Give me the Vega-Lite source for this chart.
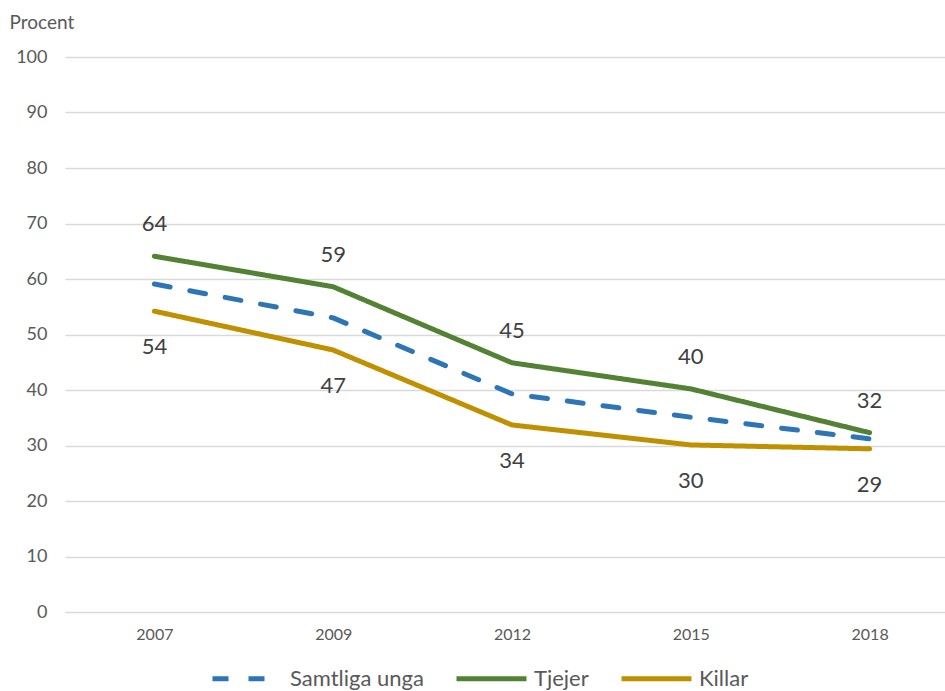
{
  "$schema": "https://vega.github.io/schema/vega-lite/v6.json",
  "autosize": "none",
  "width": 894,
  "height": 555,
  "padding": {"left": 65, "top": 57, "right": 0, "bottom": 79},
  "background": "white",
  "config": {
    "font": "Lato",
    "view": {"stroke": null}
  },
  "data": {
    "values": [
      {"year": "2007", "group": "Samtliga unga", "value": 59.1},
      {"year": "2009", "group": "Samtliga unga", "value": 53.0},
      {"year": "2012", "group": "Samtliga unga", "value": 39.3},
      {"year": "2015", "group": "Samtliga unga", "value": 35.1},
      {"year": "2018", "group": "Samtliga unga", "value": 31.2},
      {"year": "2007", "group": "Tjejer", "value": 64.1},
      {"year": "2009", "group": "Tjejer", "value": 58.6},
      {"year": "2012", "group": "Tjejer", "value": 44.9},
      {"year": "2015", "group": "Tjejer", "value": 40.2},
      {"year": "2018", "group": "Tjejer", "value": 32.3},
      {"year": "2007", "group": "Killar", "value": 54.2},
      {"year": "2009", "group": "Killar", "value": 47.2},
      {"year": "2012", "group": "Killar", "value": 33.7},
      {"year": "2015", "group": "Killar", "value": 30.1},
      {"year": "2018", "group": "Killar", "value": 29.4}
    ]
  },
  "encoding": {
    "x": {
      "field": "year",
      "type": "ordinal",
      "sort": ["2007", "2009", "2012", "2015", "2018"],
      "scale": {"type": "point", "padding": 0.5},
      "axis": {
        "title": null,
        "domain": false,
        "ticks": false,
        "grid": false,
        "labelAngle": 0,
        "labelFontSize": 16,
        "labelColor": "#595959",
        "labelPadding": 14
      }
    },
    "y": {
      "field": "value",
      "type": "quantitative",
      "scale": {"domain": [0, 100], "nice": false},
      "axis": {
        "values": [0, 10, 20, 30, 40, 50, 60, 70, 80, 90, 100],
        "title": "Procent",
        "titleAngle": 0,
        "titleAlign": "left",
        "titleBaseline": "middle",
        "titleX": -56,
        "titleY": -35,
        "titleFontSize": 19,
        "titleFontWeight": "normal",
        "titleColor": "#595959",
        "domain": false,
        "ticks": false,
        "grid": true,
        "gridColor": "#D9D9D9",
        "gridWidth": 1.5,
        "labelFontSize": 18,
        "labelColor": "#595959",
        "labelPadding": 18
      }
    }
  },
  "layer": [
    {
      "mark": {"type": "line", "strokeWidth": 5, "strokeCap": "round", "strokeJoin": "round"},
      "encoding": {
        "color": {
          "field": "group",
          "type": "nominal",
          "scale": {"domain": ["Samtliga unga", "Tjejer", "Killar"], "range": ["#2E75B6", "#548235", "#BF9000"]},
          "legend": {
            "title": null,
            "orient": "none",
            "direction": "horizontal",
            "legendX": 145,
            "legendY": 584,
            "symbolType": "stroke",
            "symbolSize": 4900,
            "symbolStrokeWidth": 5,
            "labelFontSize": 22,
            "labelColor": "#595959",
            "labelOffset": 5,
            "columnPadding": 22
          }
        },
        "strokeDash": {
          "field": "group",
          "type": "nominal",
          "scale": {"domain": ["Samtliga unga", "Tjejer", "Killar"], "range": [[16, 20], [1, 0], [1, 0]]},
          "legend": null
        }
      }
    },
    {
      "transform": [{"filter": "datum.group === 'Tjejer'"}],
      "mark": {"type": "text", "dy": -32, "fontSize": 22, "color": "#404040"},
      "encoding": {"text": {"field": "value", "type": "quantitative", "format": ".0f"}}
    },
    {
      "transform": [{"filter": "datum.group === 'Killar'"}],
      "mark": {"type": "text", "dy": 36, "fontSize": 22, "color": "#404040"},
      "encoding": {"text": {"field": "value", "type": "quantitative", "format": ".0f"}}
    }
  ]
}
